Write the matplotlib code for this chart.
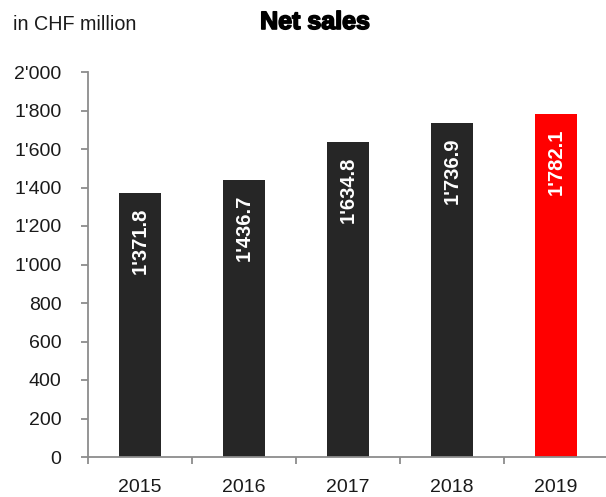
import matplotlib
matplotlib.use("Agg")
import matplotlib.pyplot as plt
import matplotlib.patheffects as pe
from matplotlib.ticker import FuncFormatter, FixedLocator

years = ["2015", "2016", "2017", "2018", "2019"]
net_sales = [1371.8, 1436.7, 1634.8, 1736.9, 1782.1]
bar_colors = ["#262626", "#262626", "#262626", "#262626", "#FF0000"]
y_ticks = [0, 200, 400, 600, 800, 1000, 1200, 1400, 1600, 1800, 2000]

plt.rcParams['font.family'] = ['Liberation Sans', 'DejaVu Sans']

W, H = 606, 497
fig = plt.figure(figsize=(W / 100, H / 100), dpi=100)
ax = fig.add_axes([88 / W, (H - 457) / H, 520 / W, 385 / H])

x = list(range(len(years)))
bars = ax.bar(x, net_sales, width=0.4, color=bar_colors, zorder=2)

def fmt(v):
    s = f"{v:,.1f}".replace(",", "'")
    return s

for xi, v in zip(x, net_sales):
    ax.annotate(fmt(v), xy=(xi, v), xytext=(0, -10.5), textcoords="offset points",
                rotation=90, ha="center", va="top", color="white",
                fontsize=14.5, fontweight="bold", zorder=3)

ax.set_xlim(-0.5, len(years) - 0.5)
ax.set_ylim(0, 2000)
ax.yaxis.set_major_locator(FixedLocator(y_ticks))
ax.yaxis.set_major_formatter(FuncFormatter(lambda v, p: f"{int(v):,}".replace(",", "'")))
ax.set_xticks(x)
ax.set_xticklabels(years)
ax.set_xticks([i - 0.5 for i in range(len(years) + 1)], minor=True)

spine_col = "#8c8c8c"
for s in ["top", "right"]:
    ax.spines[s].set_visible(False)
for s in ["left", "bottom"]:
    ax.spines[s].set_color(spine_col)
    ax.spines[s].set_linewidth(1.3)

ax.tick_params(axis="y", which="major", length=5, width=1.3, color=spine_col,
               pad=14, labelsize=14, labelcolor="#1a1a1a")
ax.tick_params(axis="x", which="major", length=0, pad=16, labelsize=14, labelcolor="#1a1a1a")
ax.tick_params(axis="x", which="minor", length=5, width=1.3, color=spine_col, direction="out")

fig.text(13 / W, 1 - 24 / H, "in CHF million", fontsize=14.2, ha="left", va="center", color="#1a1a1a")
fig.text(315 / W, 1 - 22 / H, "Net sales", fontsize=18, fontweight="bold", ha="center", va="center",
         color="black", path_effects=[pe.withStroke(linewidth=1.2, foreground="black")])

fig.savefig("out.png", dpi=100)
